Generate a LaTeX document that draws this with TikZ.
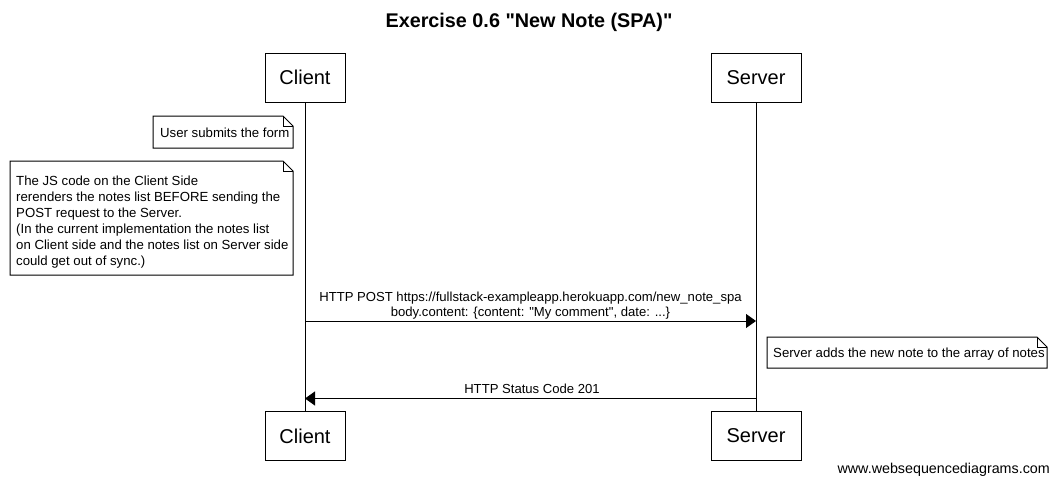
\documentclass[tikz,border=0pt]{standalone}
\usepackage{fontspec}
\setmainfont{Liberation Sans}[Ligatures=TeXOff]
\usetikzlibrary{arrows.meta}
\tikzset{
  actor/.style={draw, line width=1pt, minimum width=80pt, minimum height=49pt, inner sep=0pt, font=\fontsize{20}{24}\selectfont},
  notetext/.style={inner sep=0pt, align=left, font=\fontsize{13.2}{16}\selectfont, anchor=north west},
  msg/.style={line width=1pt, -{Triangle[length=10pt,width=14pt]}},
  msglabel/.style={inner sep=0pt, align=center, font=\fontsize{13.1}{15}\selectfont},
  life/.style={line width=1pt},
  notebox/.style={line width=1pt, fill=white}
}
\newcommand{\notebox}[5]{% x1,y1,x2,y2,name
  \draw[notebox] (#1,#2) -- (#3-10,#2) -- (#3,#2+10) -- (#3,#4) -- (#1,#4) -- cycle;
  \draw[line width=1pt] (#3-10,#2) -- (#3-10,#2+10) -- (#3,#2+10);
  \coordinate (#5) at (#1,#2);
}
\begin{document}
\begin{tikzpicture}[x=1pt,y=-1pt]
\useasboundingbox (0,0) rectangle (1058,485);
\node[font=\bfseries\fontsize{19.8}{24}\selectfont, inner sep=0pt] (title) at (529,22) {Exercise 0.6 "New Note (SPA)"};
\node[actor] (ct) at (305,77.5) {Client};
\node[actor, minimum width=90pt] (st) at (756,77.5) {Server};
\node[actor] (cb) at (305,436) {Client};
\node[actor, minimum width=90pt] (sb) at (756,436) {Server};
\draw[life] (ct.south) -- (cb.north);
\draw[life] (st.south) -- (sb.north);
% note 1
\notebox{153}{116}{293}{148}{n1}
\node[notetext] (t1) at (160,128) {User submits the form};
% note 2
\notebox{10}{161}{293}{275}{n2}
\node[notetext] (t2) at (16,175.5) {The JS code on the Client Side\\rerenders the notes list BEFORE sending the\\POST request to the Server.\\(In the current implementation the notes list\\on Client side and the notes list on Server side\\could get out of sync.)};
% arrow 1
\coordinate (a1s) at (305,321);
\coordinate (a1e) at (756,321);
\draw[msg] (a1s) -- (a1e);
\node[msglabel] (l1) at (530.5,306) {HTTP POST https://fullstack-exampleapp.herokuapp.com/new\_note\_spa\\body.content: \{content: "My comment", date: ...\}};
% note 3
\notebox{767}{337}{1047}{368}{n3}
\node[notetext] (t3) at (773,348) {Server adds the new note to the array of notes};
% arrow 2
\coordinate (a2s) at (756,398.5);
\coordinate (a2e) at (305,398.5);
\draw[msg] (a2s) -- (a2e);
\node[msglabel] (l2) at (532,389) {HTTP Status Code 201};
\node[inner sep=0pt, font=\fontsize{14.3}{17}\selectfont, anchor=east] (wm) at (1050,470) {www.websequencediagrams.com};
\end{tikzpicture}
\end{document}
